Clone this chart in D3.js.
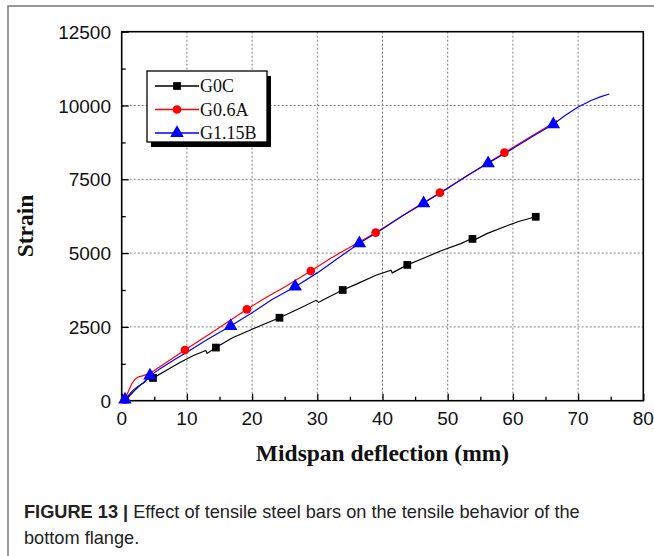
<!DOCTYPE html>
<html>
<head>
<meta charset="utf-8">
<script src="https://cdn.jsdelivr.net/npm/d3@7/dist/d3.min.js"></script>
<style>
  body { margin: 0; background: #fff; }
  svg { display: block; }
  .tick-label { font-family: "Liberation Sans", Arial, sans-serif; font-size: 19px; fill: #111; }
  .axis-title { font-family: "Liberation Serif", "Times New Roman", serif; font-size: 23.5px; font-weight: bold; fill: #111; }
  .legend-text { font-family: "Liberation Serif", "Times New Roman", serif; font-size: 18px; fill: #111; }
  .caption { font-family: "Liberation Sans", Arial, sans-serif; font-size: 18.2px; fill: #222; }
</style>
</head>
<body>
<svg id="chart" width="654" height="556"></svg>
<script>
// data: midspan deflection (mm) and strain
var seriesNames = ['G0C', 'G0.6A', 'G1.15B'];
var seriesColors = ['#000000', '#ff0000', '#0000ff'];

var g0cX = [0, 0.5, 1, 2, 3, 3.5, 3.8, 5, 7, 9, 11, 12.9, 13.1, 14.45, 17, 20, 24.2, 27, 29.8, 30.2, 31, 33.9, 36, 39, 41.3, 41.5, 43.8, 46, 49, 52, 53.6, 54, 56, 59, 61, 63.5];
var g0cY = [0, 50, 120, 350, 560, 620, 720, 790, 1050, 1300, 1530, 1700, 1600, 1800, 2130, 2420, 2810, 3100, 3400, 3330, 3430, 3750, 3950, 4250, 4420, 4330, 4600, 4800, 5080, 5320, 5480, 5430, 5660, 5920, 6080, 6230];
var g0cMarkX = [0.5, 4.8, 14.45, 24.2, 33.9, 43.8, 53.8, 63.5];
var g0cMarkY = [40, 770, 1800, 2810, 3750, 4600, 5480, 6230];

var g06aX = [0, 0.5, 1, 1.5, 2, 2.5, 3.3, 4, 5, 7, 9.7, 12, 15, 19.2, 22, 25, 29, 32, 35, 38.95, 42, 45, 48.8, 52, 55, 58.7, 62, 65, 66.8];
var g06aY = [0, 80, 300, 560, 720, 800, 850, 900, 1020, 1320, 1717, 2050, 2480, 3096, 3480, 3850, 4393, 4820, 5200, 5691, 6110, 6540, 7046, 7480, 7900, 8401, 8850, 9250, 9490];
var g06aMarkX = [0.5, 9.7, 19.2, 29, 38.95, 48.8, 58.7];
var g06aMarkY = [40, 1717, 3096, 4393, 5691, 7046, 8401];

var g115bX = [0, 0.8, 1.75, 2.5, 3.3, 4.34, 6, 8, 10, 13, 16.7, 20, 23, 26.6, 30, 33, 36.45, 40, 43, 46.3, 50, 53, 56.2, 60, 63, 66.2, 68, 70, 72, 73.5, 74.8];
var g115bY = [0, 120, 360, 480, 600, 850, 1100, 1380, 1640, 2060, 2530, 2980, 3420, 3862, 4330, 4800, 5332, 5820, 6260, 6687, 7200, 7630, 8042, 8540, 8950, 9363, 9660, 9950, 10170, 10300, 10390];
var g115bMarkX = [0.5, 4.34, 16.7, 26.6, 36.45, 46.3, 56.2, 66.2];
var g115bMarkY = [40, 850, 2530, 3862, 5332, 6687, 8042, 9363];

var xTicks = [0, 10, 20, 30, 40, 50, 60, 70, 80];
var yTicks = [0, 2500, 5000, 7500, 10000, 12500];

var svg = d3.select('#chart');

var margin = { left: 121.7, right: 643.3, top: 31.7, bottom: 400.7 };

var x = d3.scaleLinear().domain([0, 80]).range([margin.left, margin.right]);
var y = d3.scaleLinear().domain([0, 12500]).range([margin.bottom, margin.top]);

// outer figure frame
svg.append('rect')
  .attr('x', 8).attr('y', 6)
  .attr('width', 700).attr('height', 600)
  .attr('fill', 'none')
  .attr('stroke', '#7a7a7a')
  .attr('stroke-width', 1.5);

// grid
var grid = svg.append('g');
grid.selectAll('line.vg')
  .data(xTicks.slice(1, -1))
  .join('line')
  .attr('class', 'vg')
  .attr('x1', function (d) { return x(d); })
  .attr('x2', function (d) { return x(d); })
  .attr('y1', y(12500)).attr('y2', y(0))
  .attr('stroke', '#808080')
  .attr('stroke-width', 1)
  .attr('stroke-dasharray', '2,2');

grid.selectAll('line.hg')
  .data(yTicks.slice(1, -1))
  .join('line')
  .attr('class', 'hg')
  .attr('y1', function (d) { return y(d); })
  .attr('y2', function (d) { return y(d); })
  .attr('x1', x(0)).attr('x2', x(80))
  .attr('stroke', '#808080')
  .attr('stroke-width', 1)
  .attr('stroke-dasharray', '2,2');

// axes with inward ticks
var xAxis = d3.axisBottom(x).tickValues(d3.range(0, 81, 5)).tickSize(-4).tickFormat('');
var yAxis = d3.axisLeft(y).tickValues(d3.range(0, 12501, 1250)).tickSize(-4).tickFormat('');

var gx = svg.append('g').attr('transform', 'translate(0,' + y(0) + ')').call(xAxis);
var gy = svg.append('g').attr('transform', 'translate(' + x(0) + ',0)').call(yAxis);
[gx, gy].forEach(function (g) {
  g.select('.domain').remove();
  g.selectAll('.tick line').attr('stroke', '#000').attr('stroke-width', 1.3);
});
gx.selectAll('.tick line').filter(function (d) { return d % 10 === 0; }).attr('y2', -7);
gy.selectAll('.tick line').filter(function (d) { return d % 2500 === 0; }).attr('x2', 7);

svg.selectAll('text.xl')
  .data(xTicks)
  .join('text')
  .attr('class', 'tick-label xl')
  .attr('x', function (d) { return x(d); })
  .attr('y', 425)
  .attr('text-anchor', 'middle')
  .text(function (d) { return d; });

svg.selectAll('text.yl')
  .data(yTicks)
  .join('text')
  .attr('class', 'tick-label yl')
  .attr('x', 111)
  .attr('y', function (d) { return y(d) + 7; })
  .attr('text-anchor', 'end')
  .text(function (d) { return d; });

// plot border
svg.append('rect')
  .attr('x', x(0)).attr('y', y(12500))
  .attr('width', x(80) - x(0)).attr('height', y(0) - y(12500))
  .attr('fill', 'none')
  .attr('stroke', '#000')
  .attr('stroke-width', 1.6);

// lines
var line = d3.line()
  .x(function (d) { return x(d[0]); })
  .y(function (d) { return y(d[1]); });

var lineData = [d3.zip(g0cX, g0cY), d3.zip(g06aX, g06aY), d3.zip(g115bX, g115bY)];
var markData = [d3.zip(g0cMarkX, g0cMarkY), d3.zip(g06aMarkX, g06aMarkY), d3.zip(g115bMarkX, g115bMarkY)];
var symbols = [d3.symbolSquare, d3.symbolCircle, d3.symbolTriangle];
var symSizes = [60, 60, 80];

var plot = svg.append('g');
lineData.forEach(function (pts, i) {
  plot.append('path')
    .datum(pts)
    .attr('d', line)
    .attr('fill', 'none')
    .attr('stroke', seriesColors[i])
    .attr('stroke-width', 1.2);
});
markData.forEach(function (pts, i) {
  plot.selectAll('path.m' + i)
    .data(pts)
    .join('path')
    .attr('class', 'm' + i)
    .attr('transform', function (d) { return 'translate(' + x(d[0]) + ',' + y(d[1]) + ')'; })
    .attr('d', d3.symbol().type(symbols[i]).size(symSizes[i]))
    .attr('fill', seriesColors[i]);
});

// legend
var lg = svg.append('g').attr('transform', 'translate(147,71)');
lg.append('rect')
  .attr('x', 4).attr('y', 5)
  .attr('width', 120).attr('height', 71)
  .attr('fill', '#000');
lg.append('rect')
  .attr('width', 120).attr('height', 71)
  .attr('fill', '#fff')
  .attr('stroke', '#000')
  .attr('stroke-width', 1.3);

seriesNames.forEach(function (name, i) {
  var ly = 15 + i * 23.5;
  lg.append('line')
    .attr('x1', 8).attr('x2', 52)
    .attr('y1', ly).attr('y2', ly)
    .attr('stroke', seriesColors[i])
    .attr('stroke-width', 1.3);
  lg.append('path')
    .attr('transform', 'translate(30,' + ly + ')')
    .attr('d', d3.symbol().type(symbols[i]).size(symSizes[i]))
    .attr('fill', seriesColors[i]);
  lg.append('text')
    .attr('class', 'legend-text')
    .attr('x', 53)
    .attr('y', ly + 6)
    .text(name);
});

// axis titles
svg.append('text')
  .attr('class', 'axis-title')
  .attr('x', (x(0) + x(80)) / 2)
  .attr('y', 461)
  .attr('text-anchor', 'middle')
  .text('Midspan deflection (mm)');

svg.append('text')
  .attr('class', 'axis-title')
  .attr('transform', 'translate(33,226) rotate(-90)')
  .attr('text-anchor', 'middle')
  .text('Strain');

// caption
var cap = svg.append('text')
  .attr('class', 'caption')
  .attr('x', 24)
  .attr('y', 518);
cap.append('tspan').attr('font-weight', 'bold').text('FIGURE 13 | ');
cap.append('tspan').text('Effect of tensile steel bars on the tensile behavior of the');

svg.append('text')
  .attr('class', 'caption')
  .attr('x', 24)
  .attr('y', 544)
  .text('bottom flange.');
</script>
</body>
</html>
